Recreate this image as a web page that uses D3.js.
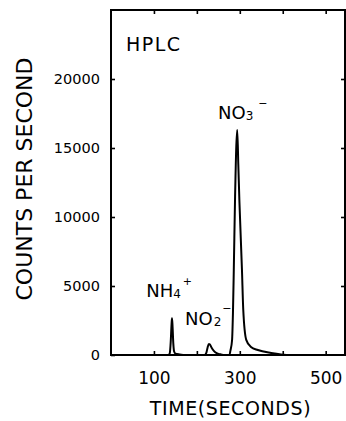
<html>
  <head>
    <script src="https://d3js.org/d3.v7.min.js"></script>
    <style>
      body { margin: 0; background: #fff; }
      text { font-family: "DejaVu Sans", sans-serif; fill: #000; }
    </style>
  </head>
  <body>
    <svg class="chart"></svg>
  </body>
  <script>
  // chromatogram trace (seconds, counts per second)
  const time = [0, 130, 134, 137, 139, 141, 142, 143, 145, 147, 150, 160, 175,
    218, 222, 225, 228, 230, 234, 240, 246, 255, 265,
    276, 278, 282, 284, 286, 289, 294, 296.5, 299, 305, 308, 315, 326, 342, 373, 396, 420, 545];
  const counts = [0, 0, 0, 150, 900, 2200, 2660, 2300, 900, 250, 100, 40, 0,
    0, 150, 550, 800, 780, 550, 280, 130, 50, 0,
    0, 300, 1090, 3000, 6160, 11500, 16300, 13800, 11200, 6200, 3300, 1100, 580, 360, 145, 40, 0, 0];

  const xTicks = [100, 200, 300, 400, 500];
  const xLabels = [100, 300, 500];
  const yTicks = [0, 5000, 10000, 15000, 20000];

  function drawChart(){
    let width = 346;
    let height = 421;
    let margin = {top:10, bottom:66, left:111, right:1};

    let x = d3.scaleLinear().domain([0, 545]).range([margin.left, width - margin.right]);
    let y = d3.scaleLinear().domain([0, 25000]).range([height - margin.bottom, margin.top]);

    let svg = d3.select('.chart')
      .attr('width', width)
      .attr('height', height)
      .attr('viewBox', [0, 0, width, height]);

    svg.append('rect')
      .attr('width', width).attr('height', height)
      .attr('fill', '#fff');

    // axes: ticks point inward, labels outside
    let bottom = svg.append('g')
      .attr('transform', `translate(0,${y(0)})`)
      .call(d3.axisBottom(x).tickValues(xTicks).tickSizeInner(-4).tickSizeOuter(0).tickPadding(17)
        .tickFormat(d => xLabels.includes(d) ? d : ''));
    bottom.selectAll('text').attr('font-size', 17).attr('font-family', '"DejaVu Sans", sans-serif');

    let left = svg.append('g')
      .attr('transform', `translate(${x(0)},0)`)
      .call(d3.axisLeft(y).tickValues(yTicks).tickSizeInner(-4).tickSizeOuter(0).tickPadding(11)
        .tickFormat(d => d));
    left.selectAll('text').attr('font-size', 14.5).attr('font-family', '"DejaVu Sans", sans-serif');

    svg.append('g')
      .attr('transform', `translate(0,${y(25000)})`)
      .call(d3.axisTop(x).tickValues(xTicks).tickSizeInner(-4).tickSizeOuter(0).tickFormat(''));

    svg.append('g')
      .attr('transform', `translate(${x(545)},0)`)
      .call(d3.axisRight(y).tickValues(yTicks.slice(1)).tickSizeInner(-4).tickSizeOuter(0).tickFormat(''));

    svg.selectAll('.domain').remove();
    svg.selectAll('.tick line').attr('stroke', '#000').attr('stroke-width', 1.6);

    svg.append('rect')
      .attr('x', x(0)).attr('y', y(25000))
      .attr('width', x(545) - x(0)).attr('height', y(0) - y(25000))
      .attr('fill', 'none').attr('stroke', '#000').attr('stroke-width', 2);

    let line = d3.line()
      .x((d, i) => x(time[i]))
      .y(d => y(d))
      .curve(d3.curveMonotoneX);

    svg.append('path')
      .datum(counts)
      .attr('d', line)
      .attr('fill', 'none')
      .attr('stroke', '#000')
      .attr('stroke-width', 2);

    // annotations
    svg.append('text')
      .attr('x', x(35)).attr('y', y(22050))
      .attr('font-size', 19).attr('letter-spacing', 1.5)
      .text('HPLC');

    let nh4 = svg.append('text').attr('x', x(82)).attr('y', y(4200)).attr('font-size', 18);
    nh4.append('tspan').text('NH');
    nh4.append('tspan').attr('font-size', 12).attr('dy', 1).text('4');
    nh4.append('tspan').attr('font-size', 11).attr('dx', 2).attr('dy', -13).text('+');

    let no2 = svg.append('text').attr('x', x(172.4)).attr('y', y(2170)).attr('font-size', 18);
    no2.append('tspan').text('NO');
    no2.append('tspan').attr('font-size', 12).attr('dx', 1).attr('dy', 1).text('2');
    no2.append('tspan').attr('font-size', 11).attr('dx', 1).attr('dy', -14).text('\u2212');

    let no3 = svg.append('text').attr('x', x(249.2)).attr('y', y(17100)).attr('font-size', 18);
    no3.append('tspan').text('NO');
    no3.append('tspan').attr('font-size', 12).attr('dy', 1).text('3');
    no3.append('tspan').attr('font-size', 11).attr('dx', 5).attr('dy', -13).text('\u2212');

    // axis titles
    svg.append('text')
      .attr('x', 230.5).attr('y', 415)
      .attr('text-anchor', 'middle')
      .attr('font-size', 19).attr('letter-spacing', 0.6)
      .text('TIME(SECONDS)');

    svg.append('text')
      .attr('transform', 'translate(32,179) rotate(-90)')
      .attr('text-anchor', 'middle')
      .attr('font-size', 22)
      .text('COUNTS PER SECOND');
  }

  drawChart();
  </script>
</html>
